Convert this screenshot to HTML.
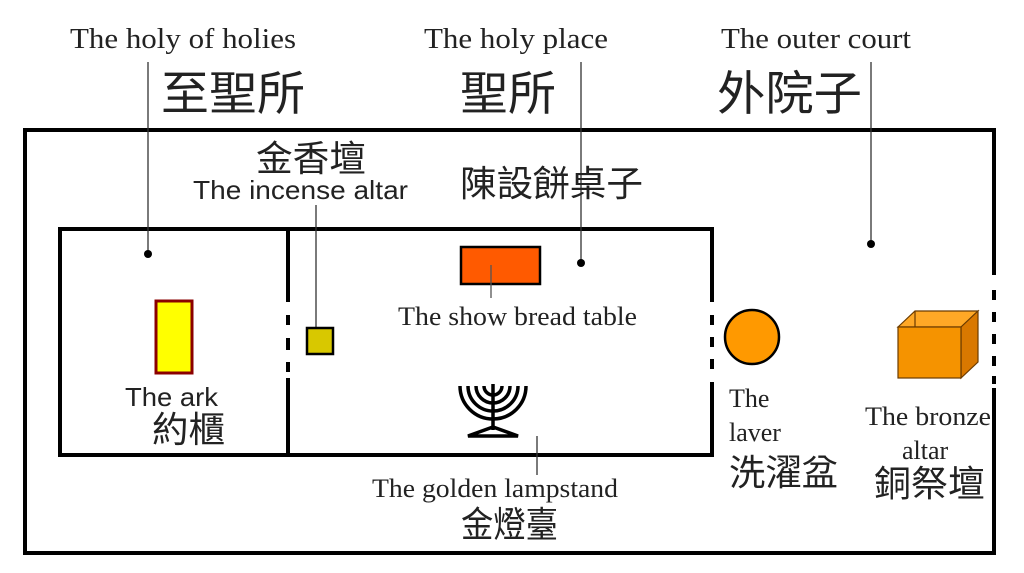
<!DOCTYPE html>
<html><head><meta charset="utf-8"><style>
html,body{margin:0;padding:0;background:#fff;}
svg{display:block}
.s{font-family:"Liberation Serif","Noto Serif CJK SC",serif;fill:#222}
.a{font-family:"Liberation Sans","Noto Sans CJK TC",sans-serif;fill:#222}
.c{font-family:"Liberation Sans","Noto Sans CJK TC",sans-serif;fill:#222}
</style></head><body>
<svg width="1024" height="573" viewBox="0 0 1024 573" xmlns="http://www.w3.org/2000/svg">
<g stroke="#000" stroke-width="4" fill="none">
<polyline points="994,275 994,130 25,130 25,553 994,553 994,388"/>
<line x1="994" y1="290" x2="994" y2="300"/><line x1="994" y1="312" x2="994" y2="322"/><line x1="994" y1="334" x2="994" y2="344"/><line x1="994" y1="356" x2="994" y2="366"/><line x1="994" y1="376" x2="994" y2="384"/>
<polyline points="712,302 712,229 60,229 60,455 712,455 712,382"/>
<line x1="712" y1="315" x2="712" y2="325"/><line x1="712" y1="337" x2="712" y2="347"/><line x1="712" y1="359" x2="712" y2="369"/>
<line x1="288" y1="229" x2="288" y2="302"/><line x1="288" y1="315" x2="288" y2="325"/><line x1="288" y1="338" x2="288" y2="350"/><line x1="288" y1="362" x2="288" y2="372"/><line x1="288" y1="378" x2="288" y2="455"/>
</g>
<g stroke="#333" stroke-width="1.3">
<line x1="148" y1="62" x2="148" y2="254"/>
<line x1="581" y1="62" x2="581" y2="263"/>
<line x1="871" y1="62" x2="871" y2="244"/>
<line x1="316" y1="205" x2="316" y2="340"/>
<line x1="537" y1="436" x2="537" y2="475"/>
</g>
<circle cx="148" cy="254" r="4" fill="#000"/>
<circle cx="581" cy="263" r="4" fill="#000"/>
<circle cx="871" cy="244" r="4" fill="#000"/>
<rect x="156" y="301" width="36" height="72" fill="#ffff00" stroke="#8b0000" stroke-width="3"/>
<rect x="307" y="328" width="26" height="26" fill="#d8c800" stroke="#000" stroke-width="2.5"/>
<rect x="461" y="247" width="79" height="37" fill="#ff5a00" stroke="#000" stroke-width="2.5"/>
<line x1="491" y1="265" x2="491" y2="298" stroke="#555" stroke-width="1.3"/>
<circle cx="752" cy="337" r="27" fill="#ff9900" stroke="#000" stroke-width="2.5"/>
<g stroke="#6b3b00" stroke-width="1.2">
<polygon points="898,327 915,311 978,311 961,327" fill="#ffa826"/>
<polygon points="961,327 978,311 978,362 961,378" fill="#d97800"/>
<rect x="898" y="327" width="63" height="51" fill="#f59300"/>
<line x1="915" y1="311" x2="915" y2="327"/>
</g>
<g stroke="#000" stroke-width="3.5" fill="none">
<line x1="493" y1="384" x2="493" y2="430"/>
<path d="M460,386 A33,33 0 0 0 526,386"/>
<path d="M468,386 A25,25 0 0 0 518,386"/>
<path d="M476,386 A17,17 0 0 0 510,386"/>
<path d="M484,386 A9,9 0 0 0 502,386"/>
<path d="M468,436 L493,427 L518,436 Z"/>
</g>
<text class="s" x="70" y="48" font-size="28" textLength="226" lengthAdjust="spacingAndGlyphs">The holy of holies</text>
<text class="s" x="424" y="48" font-size="28" textLength="184" lengthAdjust="spacingAndGlyphs">The holy place</text>
<text class="s" x="721" y="48" font-size="28" textLength="190" lengthAdjust="spacingAndGlyphs">The outer court</text>
<text class="c" x="161" y="110" font-size="47" textLength="144" lengthAdjust="spacingAndGlyphs">至聖所</text>
<text class="c" x="460" y="110" font-size="47" textLength="96" lengthAdjust="spacingAndGlyphs">聖所</text>
<text class="c" x="717" y="110" font-size="47" textLength="145" lengthAdjust="spacingAndGlyphs">外院子</text>
<text class="c" x="256" y="171" font-size="36" textLength="110" lengthAdjust="spacingAndGlyphs">金香壇</text>
<text class="a" x="193" y="199" font-size="26" textLength="215" lengthAdjust="spacingAndGlyphs">The incense altar</text>
<text class="c" x="460" y="196" font-size="36" textLength="183" lengthAdjust="spacingAndGlyphs">陳設餅桌子</text>
<text class="s" x="398" y="325" font-size="26" textLength="239" lengthAdjust="spacingAndGlyphs">The show bread table</text>
<text class="a" x="125" y="406" font-size="26" textLength="93" lengthAdjust="spacingAndGlyphs">The ark</text>
<text class="c" x="152" y="442" font-size="36" textLength="73" lengthAdjust="spacingAndGlyphs">約櫃</text>
<text class="s" x="372" y="497" font-size="26" textLength="246" lengthAdjust="spacingAndGlyphs">The golden lampstand</text>
<text class="c" x="461" y="537" font-size="36" textLength="97" lengthAdjust="spacingAndGlyphs">金燈臺</text>
<text class="s" x="729" y="407" font-size="26">The</text>
<text class="s" x="729" y="441" font-size="26">laver</text>
<text class="c" x="729" y="485" font-size="36" textLength="109" lengthAdjust="spacingAndGlyphs">洗濯盆</text>
<text class="s" x="865" y="425" font-size="26" textLength="126" lengthAdjust="spacingAndGlyphs">The bronze</text>
<text class="s" x="902" y="459" font-size="26">altar</text>
<text class="c" x="874" y="496" font-size="36" textLength="111" lengthAdjust="spacingAndGlyphs">銅祭壇</text>
</svg>
</body></html>
